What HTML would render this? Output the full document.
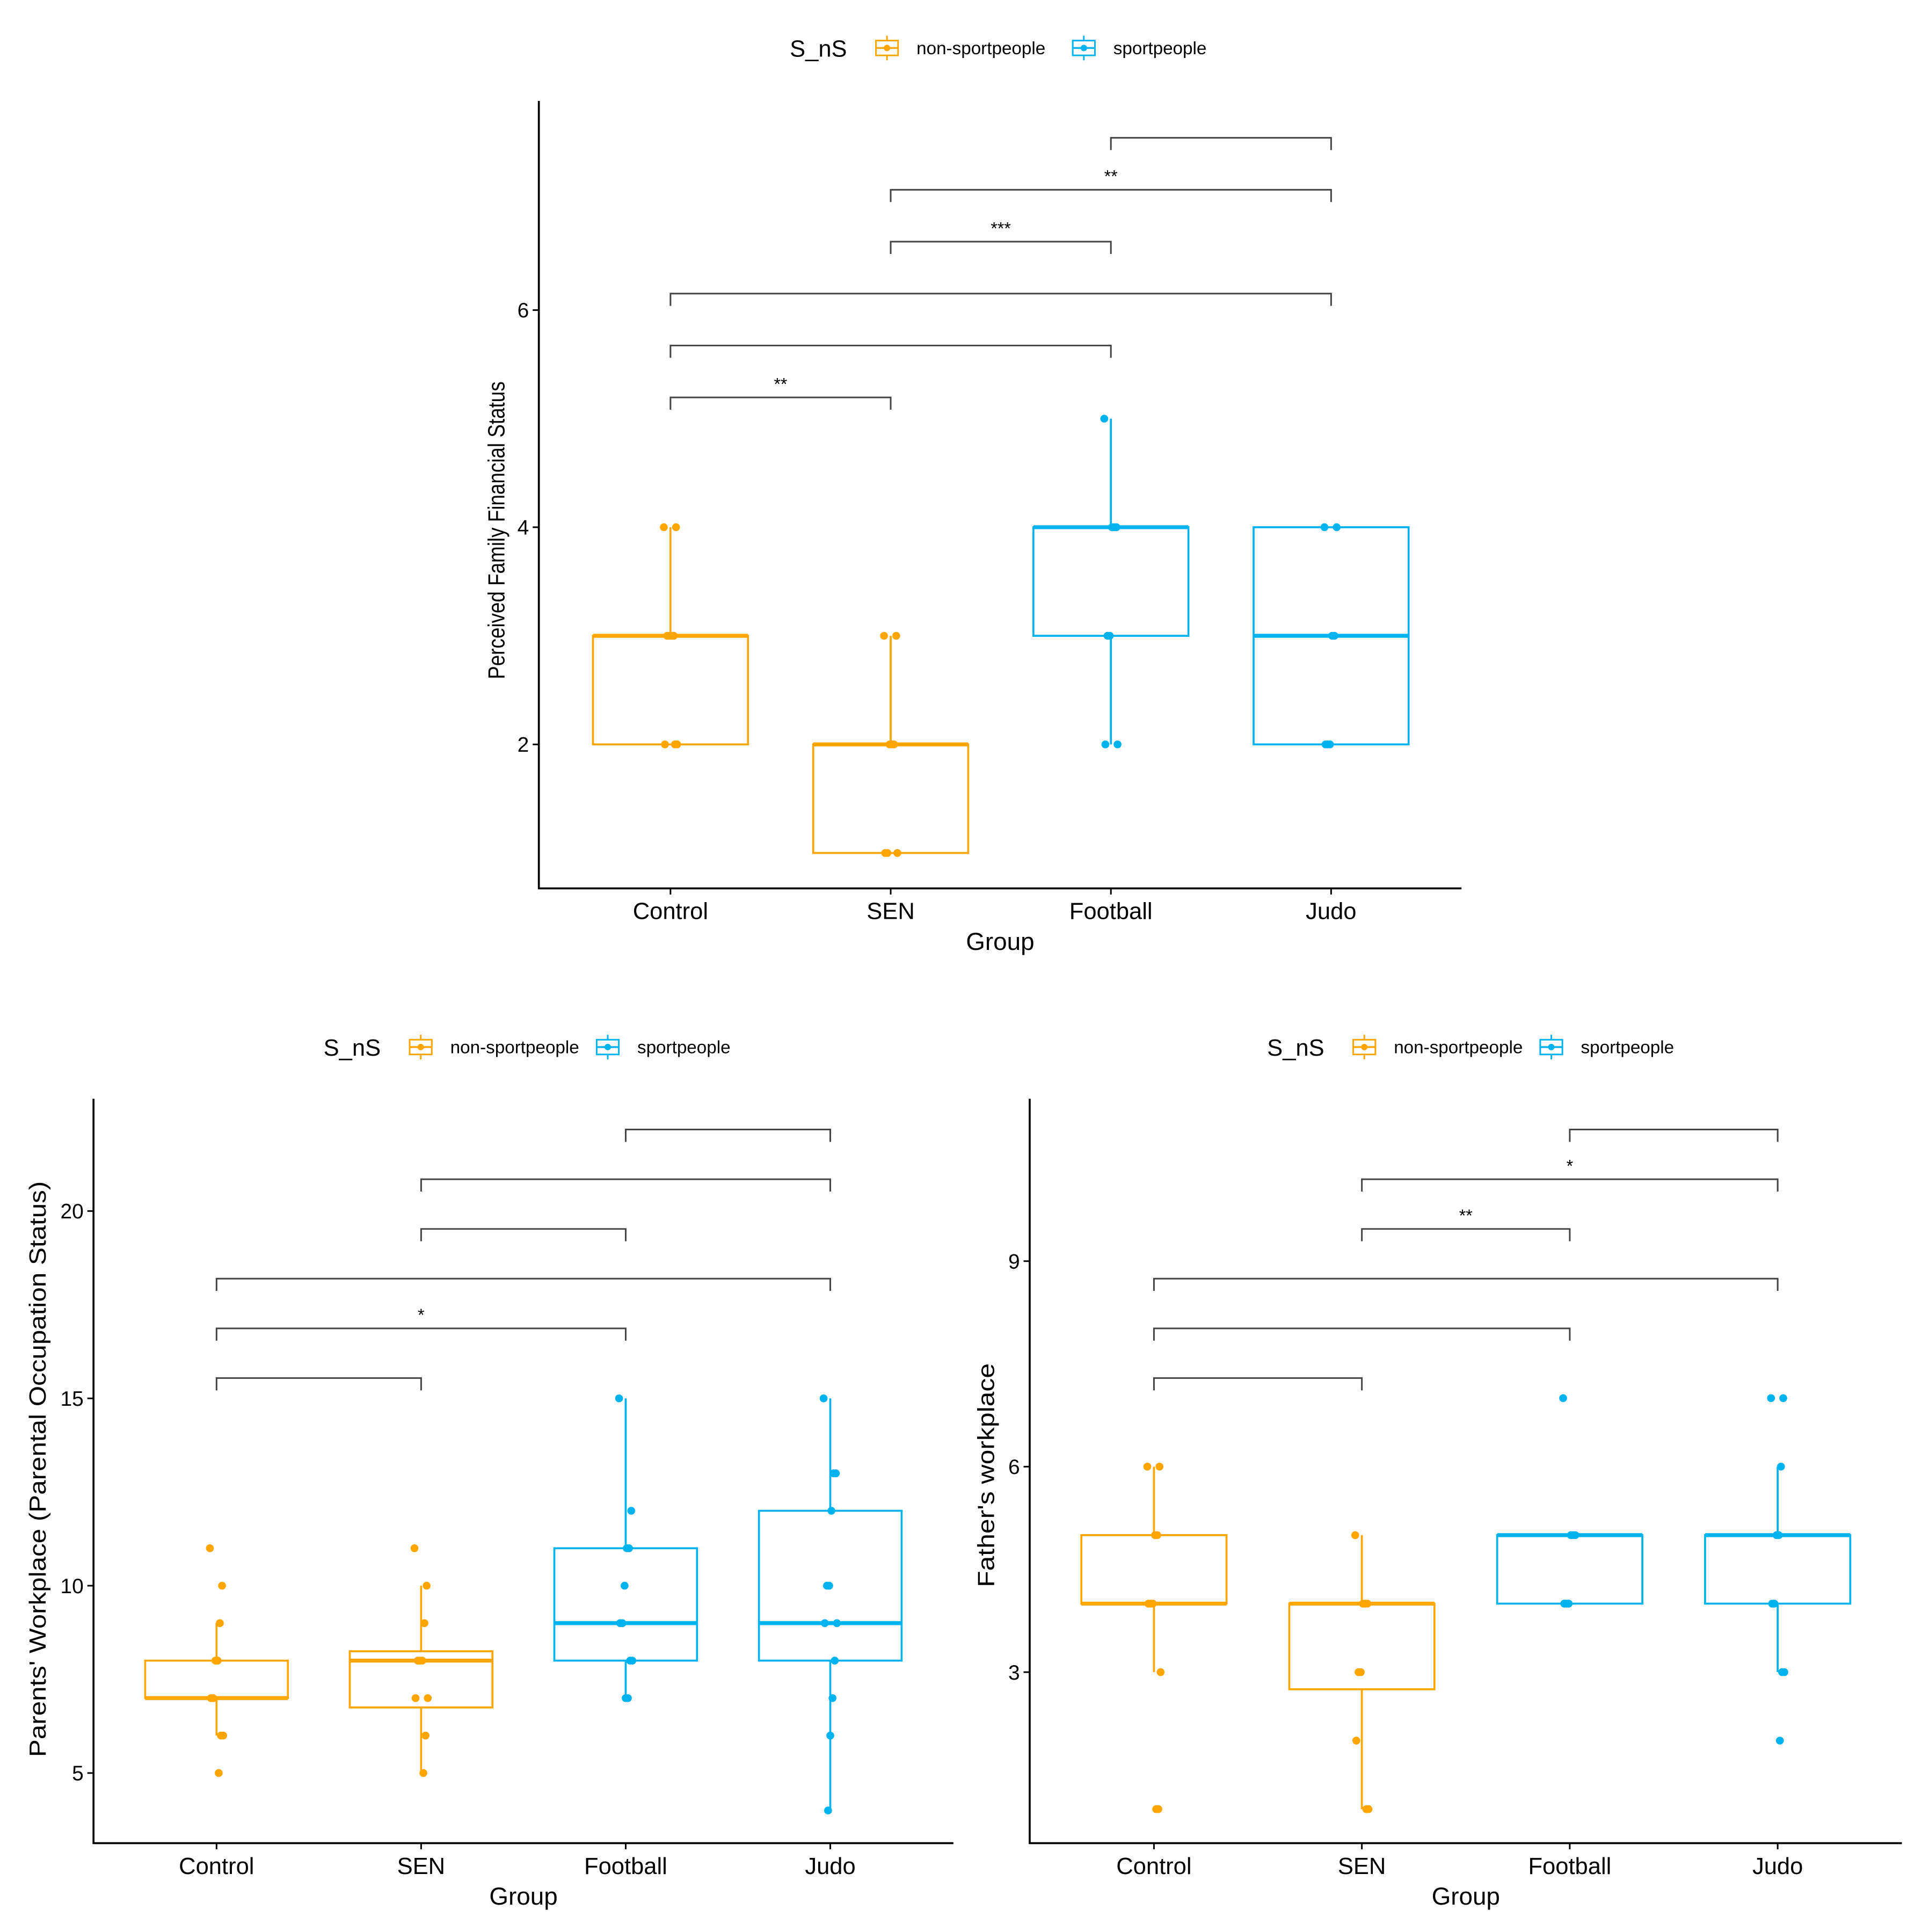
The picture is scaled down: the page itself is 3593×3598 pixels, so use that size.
<!DOCTYPE html>
<html><head><meta charset="utf-8">
<style>
html,body{margin:0;padding:0;background:#fff;}
svg{display:block;}
text{font-family:"Liberation Sans",sans-serif;fill:#000;}
</style></head>
<body>
<svg id="chart" width="3593" height="3598" viewBox="0 0 1568 1570.2" xmlns="http://www.w3.org/2000/svg"></svg>
<script>
// ---------- data ----------
const categories = ["Control","SEN","Football","Judo"];
const groupType = ["non","non","sport","sport"];

// Panel A: Perceived Family Financial Status
const aTicks = [2,4,6];
const aQ1 = [2,1,3,2];
const aMed = [3,2,4,3];
const aQ3 = [3,2,4,4];
const aLo = [2,1,2,2];
const aHi = [4,3,5,4];
const aPts = [[4,4,3,3,3,3,2,2,2],[3,3,2,2,2,1,1,1],[5,4,4,4,3,3,2,2],[4,4,3,3,2,2,2]];
const aBrackets = [[0,1,"**"],[0,2,""],[0,3,""],[1,2,"***"],[1,3,"**"],[2,3,""]];

// Panel B: Parents' Workplace
const bTicks = [5,10,15,20];
const bQ1 = [7,6.75,8,8];
const bMed = [7,8,9,9];
const bQ3 = [8,8.25,11,12];
const bLo = [6,5,7,4];
const bHi = [9,10,15,15];
const bPts = [[11,10,9,8,8,7,7,6,6,5],[11,10,9,8,8,8,7,7,6,5],[15,12,11,11,10,9,9,8,8,7,7],[15,13,13,12,10,10,9,9,8,7,6,4]];
const bBrackets = [[0,1,""],[0,2,"*"],[0,3,""],[1,2,""],[1,3,""],[2,3,""]];

// Panel C: Father's workplace
const cTicks = [3,6,9];
const cQ1 = [4,2.75,4,4];
const cMed = [4,4,5,5];
const cQ3 = [5,4,5,5];
const cLo = [3,1,4,3];
const cHi = [6,5,5,6];
const cPts = [[6,6,5,5,4,4,4,3,1,1],[5,4,4,4,3,3,2,1,1],[7,5,5,5,4,4,4],[7,7,6,5,5,4,4,3,3,2]];
const cBrackets = [[0,1,""],[0,2,""],[0,3,""],[1,2,"**"],[1,3,"*"],[2,3,""]];

const COL = {non:"#FFA500", sport:"#00B2EE"};
const NS = "http://www.w3.org/2000/svg";
const svg = document.getElementById("chart");
function el(tag, attrs, parent){
  const e = document.createElementNS(NS, tag);
  for (const k in attrs) e.setAttribute(k, attrs[k]);
  (parent||svg).appendChild(e);
  return e;
}

function panel(cfg){
  const g = el("g", {});
  
  
  const y = v => cfg.y0 - (v - cfg.v0) * cfg.k;
  const x = i => cfg.cx0 + i * cfg.dx;
  // legend
  const lg = el("g", {}, g);
  
  
  const lt = el("text", {x:cfg.leg, y:cfg.legY+7, "font-size":19}, lg);
  lt.textContent = "S_nS";
  
  
  const entries = [["non","non-sportpeople",cfg.leg+68],["sport","sportpeople",cfg.leg+68+cfg.legGap]];
  entries.forEach(en=>{
    const eg = el("g", {}, lg);
    
    
    const c = COL[en[0]], kx = en[2];
    el("line",{x1:kx+11,x2:kx+11,y1:cfg.legY-10,y2:cfg.legY+10,stroke:c,"stroke-width":1.3},eg);
    el("rect",{x:kx+2,y:cfg.legY-6,width:18,height:12,fill:"#fff",stroke:c,"stroke-width":1.3},eg);
    el("line",{x1:kx+2,x2:kx+20,y1:cfg.legY,y2:cfg.legY,stroke:c,"stroke-width":1.5},eg);
    el("circle",{cx:kx+11,cy:cfg.legY,r:2.6,fill:c},eg);
    const t = el("text",{x:kx+35,y:cfg.legY+5,"font-size":14.5},eg);
    t.textContent = en[1];
  });
  // axes
  const ax = el("path",{d:`M${cfg.xl} ${cfg.top} V${cfg.y1} H${cfg.xr}`,fill:"none",stroke:"#000","stroke-width":1.6},g);
  
  
  cfg.ticks.forEach(v=>{
    el("line",{x1:cfg.xl-5,x2:cfg.xl,y1:y(v),y2:y(v),stroke:"#000","stroke-width":1.3},g);
    const t = el("text",{x:cfg.xl-8,y:y(v)+6,"font-size":17,"text-anchor":"end",fill:"#333"},g);
    t.textContent = v;
    
    
  });
  categories.forEach((c,i)=>{
    el("line",{x1:x(i),x2:x(i),y1:cfg.y1,y2:cfg.y1+5,stroke:"#000","stroke-width":1.3},g);
    const t = el("text",{x:x(i),y:cfg.y1+25,"font-size":19,"text-anchor":"middle",fill:"#222"},g);
    t.textContent = c;
    
    
  });
  const xt = el("text",{x:(cfg.xl+cfg.xr)/2,y:cfg.y1+50,"font-size":20,"text-anchor":"middle"},g);
  xt.textContent = "Group";
  
  
  const yt = el("text",{x:0,y:0,"font-size":cfg.ytFont,"text-anchor":"middle",transform:`translate(${cfg.ytX},${cfg.ytY}) rotate(-90)`,textLength:cfg.ytLen,lengthAdjust:"spacingAndGlyphs"},g);
  yt.textContent = cfg.ytitle;
  
  
  // boxes
  categories.forEach((c,i)=>{
    const col = COL[groupType[i]];
    const bg = el("g",{},g);
    
    
    const hw = cfg.bw/2;
    if (cfg.hi[i] > cfg.q3[i]) el("line",{x1:x(i),x2:x(i),y1:y(cfg.q3[i]),y2:y(cfg.hi[i]),stroke:col,"stroke-width":1.6},bg);
    if (cfg.lo[i] < cfg.q1[i]) el("line",{x1:x(i),x2:x(i),y1:y(cfg.q1[i]),y2:y(cfg.lo[i]),stroke:col,"stroke-width":1.6},bg);
    el("rect",{x:x(i)-hw,y:y(cfg.q3[i]),width:cfg.bw,height:Math.max(0.1,y(cfg.q1[i])-y(cfg.q3[i])),fill:"none",stroke:col,"stroke-width":1.6},bg);
    el("line",{x1:x(i)-hw,x2:x(i)+hw,y1:y(cfg.med[i]),y2:y(cfg.med[i]),stroke:col,"stroke-width":3.2},bg);
    cfg.pts[i].forEach((v,j)=>{
      const jit = ((j*37)%13 - 6) * 0.9;
      const p = el("circle",{cx:x(i)+jit,cy:y(v),r:3.2,fill:col},bg);
      
      
    });
  });
  // brackets
  cfg.brackets.forEach((b,k)=>{
    const by = cfg.bTop + (cfg.brackets.length-1-k)*cfg.bStep;
    const bgp = el("g",{},g);
    
    
    el("path",{d:`M${x(b[0])} ${by+10} V${by} H${x(b[1])} V${by+10}`,fill:"none",stroke:"#444","stroke-width":1.3},bgp);
    if (b[2]) {
      const t = el("text",{x:(x(b[0])+x(b[1]))/2,y:by-6,"font-size":14,"text-anchor":"middle"},bgp);
      t.textContent = b[2];
    }
  });
}

panel({name:"panel-financial-status",ticks:aTicks,q1:aQ1,med:aMed,q3:aQ3,lo:aLo,hi:aHi,pts:aPts,brackets:aBrackets,
  v0:2,y0:605,k:88.25,cx0:545,dx:179,bw:126,xl:438,xr:1188,top:82,y1:722,
  bTop:112,bStep:42.2,leg:642,legY:39,legGap:160,
  ytitle:"Perceived Family Financial Status",ytX:410,ytY:431,ytLen:242,ytFont:19});
panel({name:"panel-parents-workplace",ticks:bTicks,q1:bQ1,med:bMed,q3:bQ3,lo:bLo,hi:bHi,pts:bPts,brackets:bBrackets,
  v0:5,y0:1441,k:30.45,cx0:176,dx:166.3,bw:116,xl:76,xr:775,top:893,y1:1498,
  bTop:918,bStep:40.4,leg:263,legY:851,legGap:152,
  ytitle:"Parents' Workplace (Parental Occupation Status)",ytX:37,ytY:1194,ytLen:468,ytFont:19});
panel({name:"panel-fathers-workplace",ticks:cTicks,q1:cQ1,med:cMed,q3:cQ3,lo:cLo,hi:cHi,pts:cPts,brackets:cBrackets,
  v0:3,y0:1359,k:55.67,cx0:938,dx:169,bw:118,xl:837,xr:1546,top:893,y1:1498,
  bTop:918,bStep:40.4,leg:1030,legY:851,legGap:152,
  ytitle:"Father's workplace",ytX:808,ytY:1199,ytLen:182,ytFont:19});
</script>
</body></html>
